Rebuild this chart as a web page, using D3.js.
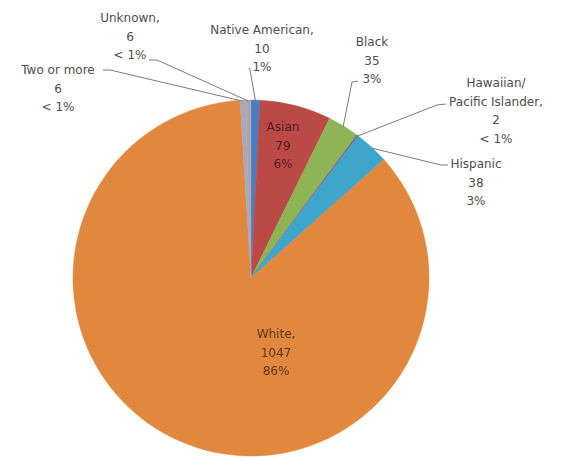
<!DOCTYPE html>
<html>
<head>
<meta charset="utf-8">
<script src="https://cdn.jsdelivr.net/npm/d3@7"></script>
<style>
  body { margin: 0; background: #fff; }
  text { font-family: "DejaVu Sans", sans-serif; font-size: 12px; }
</style>
</head>
<body>
<div id="chart"></div>
<script>
// data, clockwise from 12 o'clock
var groups  = ["Native American", "Asian", "Black", "Hawaiian/ Pacific Islander", "Hispanic", "White", "Two or more", "Unknown"];
var counts  = [10, 79, 35, 2, 38, 1047, 6, 6];
var percents = ["1%", "6%", "3%", "< 1%", "3%", "86%", "< 1%", "< 1%"];
var colors  = ["#4a7ec0", "#bb4a47", "#8fb456", "#7d62a0", "#3fa6cb", "#e1883e", "#aca6b8", "#a9a8b3"];

// label text lines per slice
var labelLines = [
  ["Native American,", "10", "1%"],
  ["Asian", "79", "6%"],
  ["Black", "35", "3%"],
  ["Hawaiian/", "Pacific Islander,", "2", "< 1%"],
  ["Hispanic", "38", "3%"],
  ["White,", "1047", "86%"],
  ["Two or more", "6", "< 1%"],
  ["Unknown,", "6", "< 1%"]
];

var width = 563,
    height = 462;

var cx = 251, cy = 278, radius = 178;

// where each label sits (x = centre of text, y = first baseline) and where its leader starts
var labelLayout = [
  { x: 262, y: 34,  inside: false, lead: [[249, 68], [250, 70]] },
  { x: 283, y: 131, inside: true },
  { x: 372, y: 46,  inside: false, lead: [[358, 81], [352, 82]] },
  { x: 496, y: 87,  inside: false, lead: [[446, 104], [437, 105]] },
  { x: 476, y: 168, inside: false, lead: [[448, 165], [441, 165]] },
  { x: 276, y: 338, inside: true },
  { x: 58,  y: 74,  inside: false, lead: [[103, 70], [110, 70]] },
  { x: 130, y: 22,  inside: false, lead: [[149, 60], [157, 60]] }
];

var lineGap = 18.7;

var svg = d3.select("#chart")
            .append("svg")
            .attr("width", width)
            .attr("height", height);

var pie = d3.pie()
            .sort(null)
            .value(function (d) { return d; });

var arc = d3.arc()
            .innerRadius(0)
            .outerRadius(radius);

var arcs = pie(counts);

var g = svg.append("g")
           .attr("transform", "translate(" + cx + "," + cy + ")");

g.selectAll("path.slice")
  .data(arcs)
  .enter()
  .append("path")
  .attr("class", "slice")
  .attr("d", arc)
  .attr("fill", function (d, i) { return colors[i]; })
  .attr("stroke", function (d, i) { return colors[i]; })
  .attr("stroke-width", 0.5);

// leader lines: label side -> elbow -> point on the slice edge
var edge = function (d, r) {
  var a = (d.startAngle + d.endAngle) / 2;
  return [cx + r * Math.sin(a), cy - r * Math.cos(a)];
};

svg.append("g").selectAll("path.leader")
  .data(arcs.filter(function (d, i) { return !labelLayout[i].inside; }))
  .enter()
  .append("path")
  .attr("class", "leader")
  .attr("fill", "none")
  .attr("stroke", "#7b7b7b")
  .attr("stroke-width", 1)
  .attr("d", function (d) {
    var lay = labelLayout[d.index];
    var p = edge(d, radius - 1);
    return d3.line()([lay.lead[0], lay.lead[1], p]);
  });

var labels = svg.append("g").selectAll("text.label")
  .data(arcs)
  .enter()
  .append("text")
  .attr("class", "label")
  .attr("text-anchor", "middle")
  .attr("fill", function (d, i) { return labelLayout[i].inside ? "#000" : "#4d4d4d"; })
  .attr("fill-opacity", function (d, i) { return labelLayout[i].inside ? 0.62 : 1; })
  .attr("x", function (d, i) { return labelLayout[i].x; })
  .attr("y", function (d, i) { return labelLayout[i].y; });

labels.selectAll("tspan")
  .data(function (d, i) { return labelLines[i].map(function (t) { return { t: t, x: labelLayout[i].x }; }); })
  .enter()
  .append("tspan")
  .attr("x", function (d) { return d.x; })
  .attr("dy", function (d, j) { return j == 0 ? 0 : lineGap; })
  .text(function (d) { return d.t; });
</script>
</body>
</html>
